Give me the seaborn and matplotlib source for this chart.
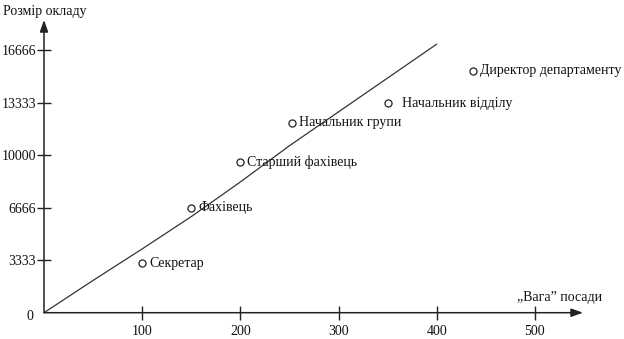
import matplotlib
matplotlib.use("Agg")
import matplotlib.pyplot as plt
import seaborn as sns
import pandas as pd

# ---- data ----
curve_x = [0, 50, 100, 150, 200, 250, 300, 350, 400]
curve_y = [0, 2050, 4050, 6100, 8300, 10600, 12750, 14900, 17050]

positions = ["Секретар", "Фахівець", "Старший фахівець", "Начальник групи",
             "Начальник відділу", "Директор департаменту"]
pos_weight = [100, 150, 200, 253, 350, 437]
pos_salary = [3150, 6650, 9550, 12050, 13300, 15350]

x_ticks = [100, 200, 300, 400, 500]
y_ticks = [3333, 6666, 10000, 13333, 16666]
y_tick_labels = ["3333", "6666", "10000", "13333", "16666"]

x_label = "„Вага” посади"
y_label = "Розмір окладу"

sns.set_style("white")
plt.rcParams["font.family"] = ["Liberation Serif", "DejaVu Serif"]
plt.rcParams["font.size"] = 10

W, H = 624, 339
fig = plt.figure(figsize=(W / 100, H / 100), dpi=100)
ox, oy = 44, 312.7
ax = fig.add_axes([ox / W, (H - oy) / H, (583 - ox) / W, (oy - 20) / H])
ax.set_xlim(0, 549)
ax.set_ylim(0, 18582)

curve = pd.DataFrame({"x": curve_x, "y": curve_y})
pts = pd.DataFrame({"x": pos_weight, "y": pos_salary, "name": positions})

sns.lineplot(data=curve, x="x", y="y", ax=ax, color="#333333", lw=0.9, sort=False)
sns.scatterplot(data=pts, x="x", y="y", ax=ax, marker="o", s=26,
                facecolor="white", edgecolor="#222222", linewidth=0.9, zorder=5)

dx = {"Начальник відділу": 10}
for n, xv, yv in zip(positions, pos_weight, pos_salary):
    ax.annotate(n, (xv, yv), xytext=(dx.get(n, 5), 0), textcoords="offset points",
                ha="left", va="center", fontsize=10, color="#111111")

for s in ax.spines.values():
    s.set_visible(False)

ak = dict(arrowstyle="-|>,head_length=0.7,head_width=0.25", color="#222222", lw=1.1,
          shrinkA=0, shrinkB=0)
ax.annotate("", xy=(1, 0), xytext=(0, 0), xycoords="axes fraction", arrowprops=ak)
ax.annotate("", xy=(0, 1), xytext=(0, 0), xycoords="axes fraction", arrowprops=ak)

ax.set_xticks(x_ticks)
ax.set_xticklabels([str(v) for v in x_ticks])
ax.set_yticks(y_ticks)
ax.set_yticklabels(y_tick_labels)
ax.tick_params(axis="both", direction="inout", length=9.5, width=1.0, color="#222222",
               labelsize=10, labelcolor="#111111", bottom=True, left=True)
ax.tick_params(axis="x", pad=4)
ax.tick_params(axis="y", pad=1)
ax.annotate("0", (0, 0), xytext=(-8, -3), textcoords="offset points",
            ha="right", va="center", fontsize=10, color="#111111")

ax.set_xlabel(x_label, fontsize=10, color="#111111", ha="left", va="center")
ax.xaxis.set_label_coords((517 - ox) / (583 - ox), (oy - 298) / (oy - 20))
ax.set_ylabel(y_label, fontsize=10, color="#111111", rotation=0, ha="left", va="center")
ax.yaxis.set_label_coords((3 - ox) / (583 - ox), (oy - 12) / (oy - 20))

fig.savefig("out.png", dpi=100)
